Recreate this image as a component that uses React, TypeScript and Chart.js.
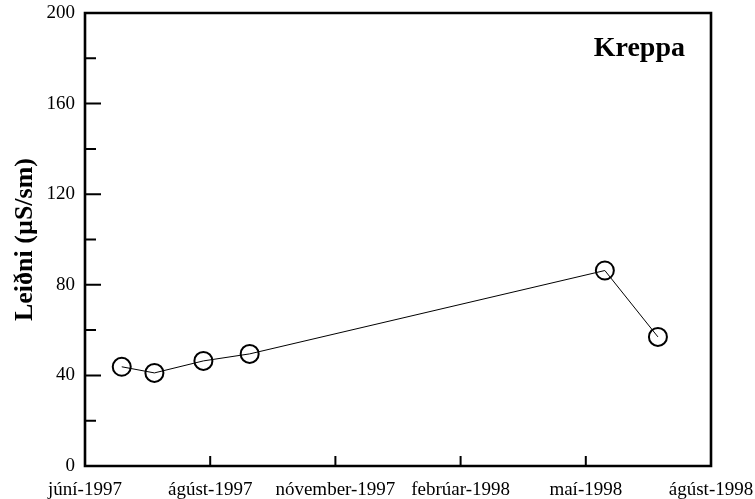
import React, { useEffect, useRef } from "react";
import { Chart, registerables } from "chart.js";

Chart.register(...registerables);

// Sample positions along the x axis (days from the first tick; ticks are 92 days apart)
const sampleDays = [27, 51, 87, 121, 382, 421];
// Conductivity values (µS/sm)
const conductivity = [43.8, 41.1, 46.4, 49.5, 86.3, 57.0];
const xTickLabels = ["júní-1997", "ágúst-1997", "nóvember-1997", "febrúar-1998", "maí-1998", "ágúst-1998"];
const xTickStep = 92;
const yMajorTicks = [0, 40, 80, 120, 160, 200];
const yMinorTicks = [20, 60, 100, 140, 180];
const seriesTitle = "Kreppa";
const yTitle = "Leiðni (µS/sm)";

const SERIF = "'Liberation Serif', 'Times New Roman', serif";

const framePlugin = {
  id: "frame",
  afterDraw(chart: any) {
    const { ctx, chartArea } = chart;
    const { left, right, top, bottom } = chartArea;
    const xs = chart.scales.x;
    const ys = chart.scales.y;
    ctx.save();
    ctx.strokeStyle = "#000";
    ctx.lineWidth = 2;
    ctx.beginPath();
    yMajorTicks.forEach((v) => {
      const py = ys.getPixelForValue(v);
      ctx.moveTo(left, py);
      ctx.lineTo(left + 16, py);
    });
    yMinorTicks.forEach((v) => {
      const py = ys.getPixelForValue(v);
      ctx.moveTo(left, py);
      ctx.lineTo(left + 11, py);
    });
    xTickLabels.forEach((_, i) => {
      const px = xs.getPixelForValue(i * xTickStep);
      ctx.moveTo(px, bottom);
      ctx.lineTo(px, bottom - 10);
    });
    ctx.stroke();
    ctx.lineWidth = 2.6;
    ctx.beginPath();
    ctx.rect(left, top, right - left, bottom - top);
    ctx.stroke();
    ctx.fillStyle = "#000";
    ctx.font = `bold 28px ${SERIF}`;
    ctx.textAlign = "right";
    ctx.textBaseline = "alphabetic";
    ctx.fillText(seriesTitle, right - 26, top + 43);
    ctx.restore();
  },
};

export default function App() {
  const ref = useRef<HTMLCanvasElement>(null);
  useEffect(() => {
    if (!ref.current) return;
    const chart = new Chart(ref.current, {
      type: "line",
      data: {
        datasets: [
          {
            data: sampleDays.map((d, i) => ({ x: d, y: conductivity[i] })),
            borderColor: "#000",
            borderWidth: 1,
            pointRadius: 9,
            pointBorderWidth: 2,
            pointBorderColor: "#000",
            pointBackgroundColor: "rgba(0,0,0,0)",
            pointHoverRadius: 9,
            fill: false,
            tension: 0,
          },
        ],
      },
      options: {
        animation: false,
        responsive: false,
        maintainAspectRatio: false,
        layout: { padding: { left: 0, top: 13, right: 44, bottom: 0 } },
        plugins: { legend: { display: false }, tooltip: { enabled: false } },
        scales: {
          x: {
            type: "linear",
            min: 0,
            max: xTickStep * (xTickLabels.length - 1),
            grid: { display: false, drawTicks: false },
            border: { display: false },
            ticks: {
              stepSize: xTickStep,
              autoSkip: false,
              maxRotation: 0,
              padding: 13,
              color: "#000",
              font: { family: SERIF, size: 19 },
              callback: (v: any) => xTickLabels[Math.round(Number(v) / xTickStep)] ?? "",
            },
            afterFit: (s: any) => {
              s.height = 33;
              s.paddingLeft = 0;
              s.paddingRight = 0;
              s.paddingTop = 0;
              s.paddingBottom = 0;
            },
          },
          y: {
            min: 0,
            max: 200,
            grid: { display: false, drawTicks: false },
            border: { display: false },
            ticks: {
              stepSize: 40,
              padding: 10,
              color: "#000",
              font: { family: SERIF, size: 19 },
            },
            title: {
              display: true,
              text: yTitle,
              color: "#000",
              font: { family: SERIF, size: 26, weight: "bold" },
              padding: { top: 10, bottom: 0 },
            },
            afterFit: (s: any) => {
              s.width = 85;
              s.paddingLeft = 0;
              s.paddingRight = 0;
              s.paddingTop = 0;
              s.paddingBottom = 0;
            },
          },
        },
      },
      plugins: [framePlugin],
    });
    return () => chart.destroy();
  }, []);
  return (
    <div style={{ position: "absolute", left: 0, top: 0, width: 755, height: 499, background: "#fff" }}>
      <canvas ref={ref} width={755} height={499} />
    </div>
  );
}
